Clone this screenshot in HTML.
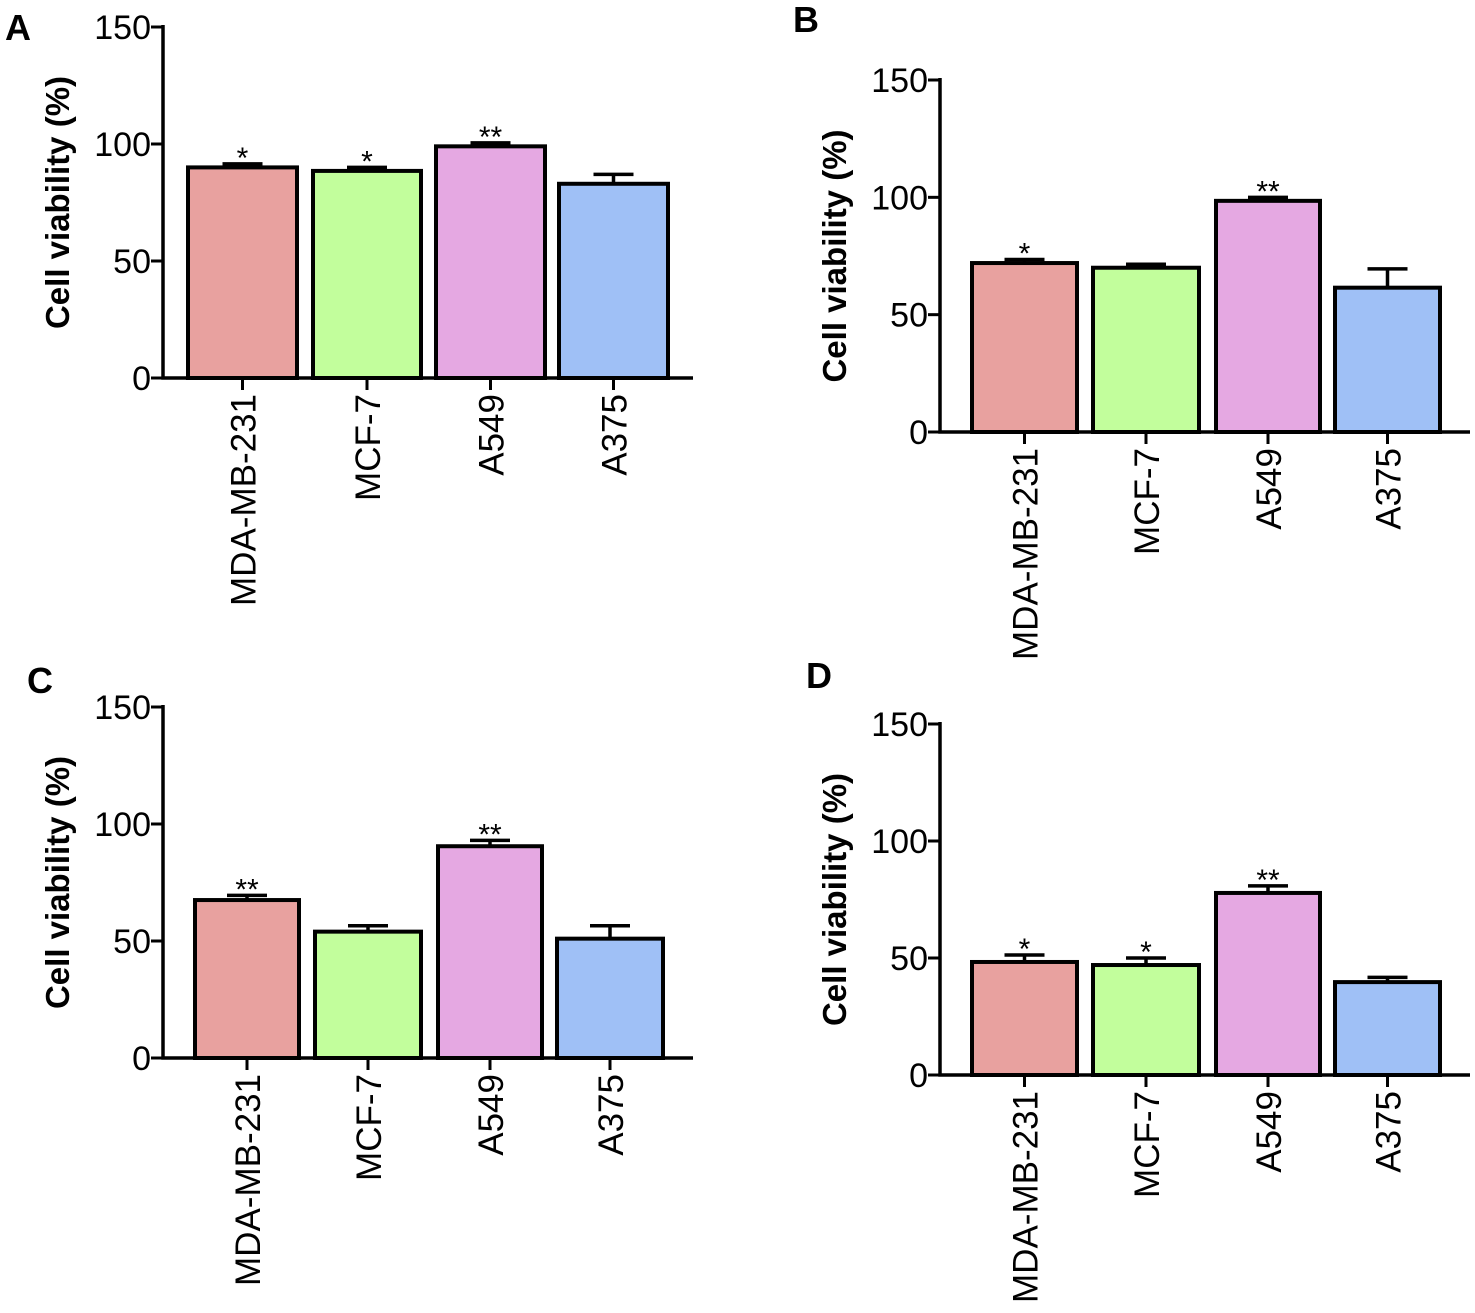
<!DOCTYPE html>
<html><head><meta charset="utf-8"><style>
body{margin:0;background:#fff}
svg{display:block;font-family:"Liberation Sans",Arial,sans-serif}
</style></head><body>
<svg id="fig" width="1475" height="1313" viewBox="0 0 1475 1313" xmlns="http://www.w3.org/2000/svg"></svg>
<script>
const categories=["MDA-MB-231","MCF-7","A549","A375"];
const colors=["#e8a19f","#c2fe9c","#e5a8e2","#9fc0f6"];
const valuesA=[90,88.5,99,83];
const errA=[1.5,1.5,1.5,4];
const starsA=["*","*","**",""];
const valuesB=[72,70,98.5,61.5];
const errB=[1.5,1.5,1.5,8];
const starsB=["*","","**",""];
const valuesC=[67.5,54,90.5,51];
const errC=[2,2.5,2.5,5.5];
const starsC=["**","","**",""];
const valuesD=[48.3,47,77.8,39.7];
const errD=[3,3,3,2];
const starsD=["*","*","**",""];
const yTicks=[0,50,100,150];

const NS="http://www.w3.org/2000/svg";
const svg=document.getElementById('fig');
function mk(tag,attrs,parent,text){const e=document.createElementNS(NS,tag);for(const k in attrs)e.setAttribute(k,attrs[k]);if(text!==undefined)e.textContent=text;parent.appendChild(e);return e;}

const panels=[
 {id:'a',letter:'A',lx:5,ly:40,ax:163,y0:378,y150:27,xEnd:693,bars:[[188,297],[313,421],[436,545],[559,668]],vals:valuesA,err:errA,stars:starsA},
 {id:'b',letter:'B',lx:793,ly:32,ax:940,y0:432,y150:80,xEnd:1470,bars:[[972,1077],[1093,1199],[1216,1320],[1335,1440]],vals:valuesB,err:errB,stars:starsB},
 {id:'c',letter:'C',lx:27,ly:693,ax:163,y0:1058,y150:707,xEnd:693,bars:[[195,299],[315,421],[438,542],[557,663]],vals:valuesC,err:errC,stars:starsC},
 {id:'d',letter:'D',lx:806,ly:688,ax:940,y0:1075,y150:724,xEnd:1470,bars:[[972,1077],[1093,1199],[1216,1320],[1335,1440]],vals:valuesD,err:errD,stars:starsD}
];

panels.forEach(p=>{
 const g=mk('g',{},svg);
 
 
 const y=v=>p.y0-(p.y0-p.y150)*v/150;
 const lt=mk('text',{x:p.lx,y:p.ly,'font-size':36,'font-weight':'bold'},g,p.letter);
 
 
 p.vals.forEach((v,i)=>{
  const [x1,x2]=p.bars[i];const cx=(x1+x2)/2;
  const ey=y(v+p.err[i]);
  const eb=mk('path',{d:`M${cx} ${y(v)}V${ey}M${cx-20} ${ey}H${cx+20}`,stroke:'#000','stroke-width':3.5,fill:'none'},g);
  
  
  const r=mk('rect',{x:x1,y:y(v),width:x2-x1,height:p.y0-y(v),fill:colors[i],stroke:'#000','stroke-width':4},g);
  
  
  if(p.stars[i]){const s=mk('text',{x:cx,y:ey+4,'font-size':30,'text-anchor':'middle'},g,p.stars[i]);
   
   }
  const tk=mk('line',{x1:cx,x2:cx,y1:p.y0,y2:p.y0+12,stroke:'#000','stroke-width':3},g);
  
  
  const cl=mk('text',{transform:`translate(${cx+13},${p.y0+16}) rotate(-90)`,'font-size':35,'text-anchor':'end'},g,categories[i]);
  
  
 });
 const axis=mk('path',{d:`M${p.ax} ${p.y150-2}V${p.y0}H${p.xEnd}`,stroke:'#000','stroke-width':3.5,fill:'none'},g);
 
 
 yTicks.forEach(t=>{
  const tl=mk('line',{x1:p.ax-12,x2:p.ax,y1:y(t),y2:y(t),stroke:'#000','stroke-width':3},g);
  
  
  const tx=mk('text',{x:p.ax-12,y:y(t)+12,'font-size':34,'text-anchor':'end'},g,String(t));
  
  
 });
 const ym=(p.y0+p.y150)/2;
 const yt=mk('text',{transform:`translate(${p.ax-94},${ym}) rotate(-90)`,'font-size':33,'font-weight':'bold','text-anchor':'middle'},g,'Cell viability (%)');
 
 
});
</script>
</body></html>
